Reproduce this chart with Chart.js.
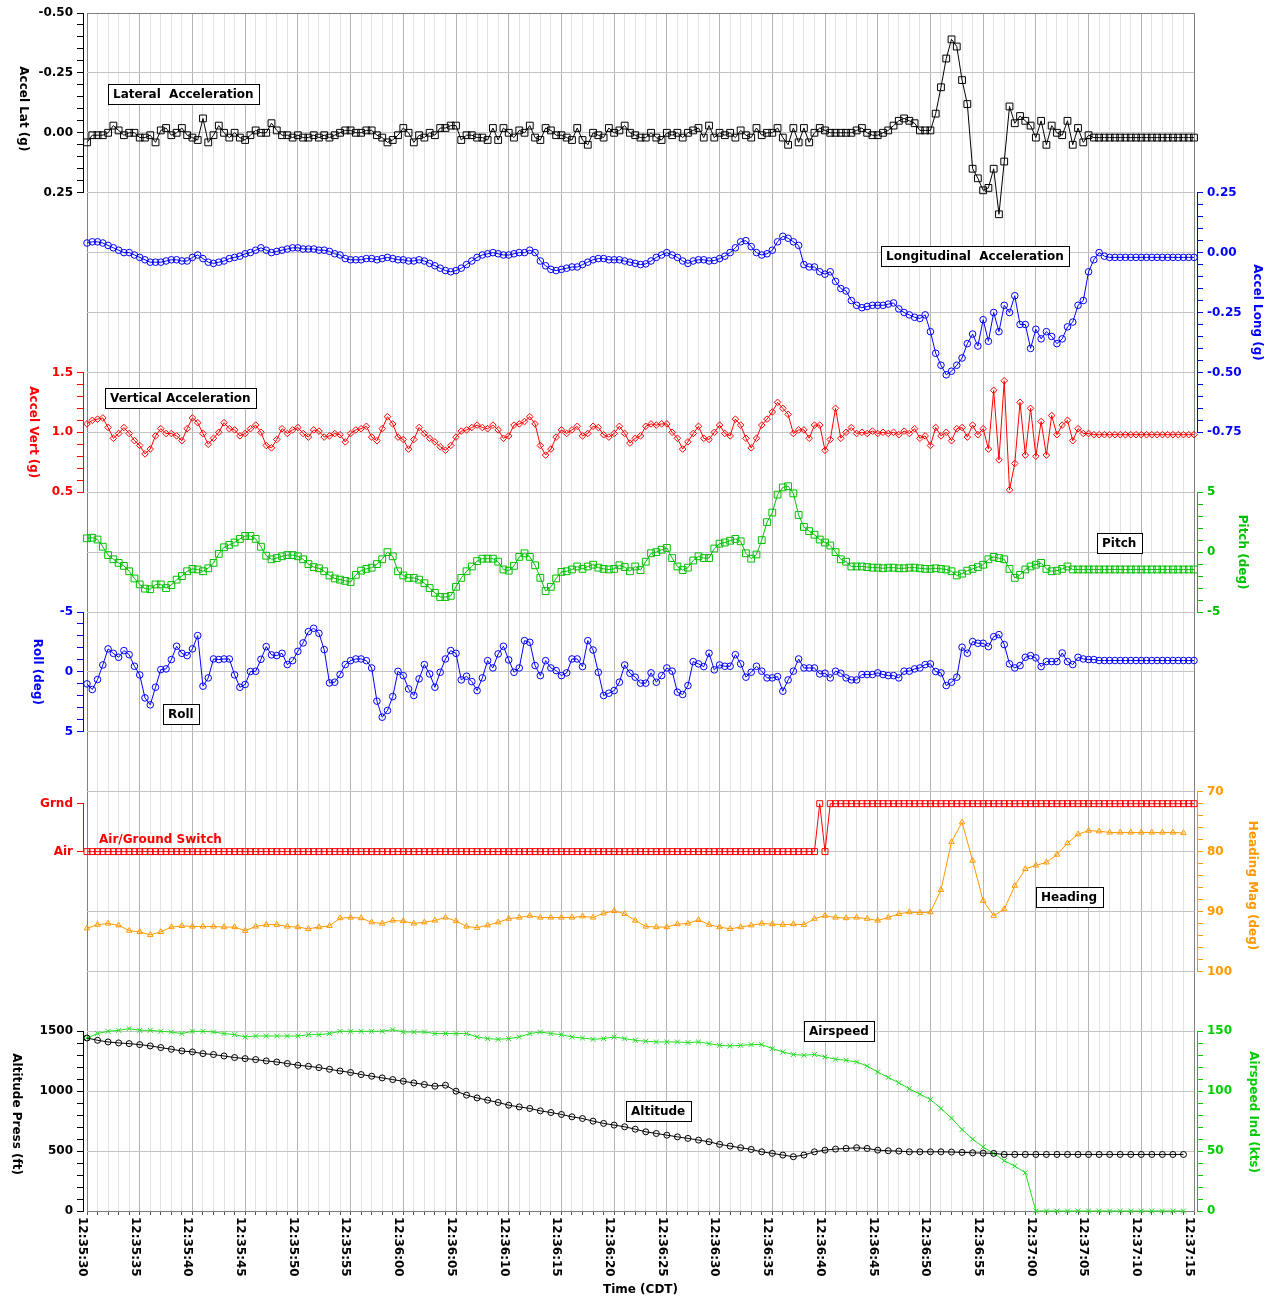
<!DOCTYPE html>
<html>
<head>
<meta charset="utf-8">
<title>Flight data</title>
<script src="https://cdn.jsdelivr.net/npm/chart.js@4/dist/chart.umd.min.js"></script>
<style>
  html, body { margin: 0; background: #fff; }
  canvas { display: block; }
</style>
</head>
<body>
<canvas id="fdr" width="1273" height="1301"></canvas>
<script>
// time base: seconds after 12:35:30. fast parameters 2 samples/s, slow ones 1/s
const timeLabels = ['12:35:30', '12:35:35', '12:35:40', '12:35:45', '12:35:50', '12:35:55',
  '12:36:00', '12:36:05', '12:36:10', '12:36:15', '12:36:20', '12:36:25', '12:36:30',
  '12:36:35', '12:36:40', '12:36:45', '12:36:50', '12:36:55', '12:37:00', '12:37:05',
  '12:37:10', '12:37:15'];

const latTicks = [-0.5, -0.25, 0, 0.25];
const longTicks = [-0.75, -0.5, -0.25, 0, 0.25];
const vertTicks = [0.5, 1.0, 1.5];
const pitchTicks = [-5, 0, 5];
const rollTicks = [-5, 0, 5];
const airGndTicks = ['Air', 'Grnd'];
const headingTicks = [70, 80, 90, 100];
const altTicks = [0, 500, 1000, 1500];
const airspeedTicks = [0, 50, 100, 150];

// g, 2 Hz
const latAccel = [
  0.04, 0.01, 0.01, 0.01, 0.00, -0.03, -0.01, 0.01, 0.00, 0.00,
  0.02, 0.02, 0.01, 0.04, -0.01, -0.02, 0.01, 0.00, -0.02, 0.01,
  0.02, 0.03, -0.06, 0.04, 0.01, -0.03, 0.00, 0.02, 0.00, 0.02,
  0.03, 0.01, -0.01, 0.00, 0.00, -0.04, -0.01, 0.01, 0.01, 0.02,
  0.01, 0.02, 0.02, 0.01, 0.02, 0.01, 0.02, 0.01, 0.00, -0.01,
  -0.01, 0.00, 0.00, -0.01, -0.01, 0.01, 0.02, 0.04, 0.03, 0.01,
  -0.02, 0.00, 0.04, 0.01, 0.02, 0.00, 0.01, -0.02, -0.02, -0.03,
  -0.03, 0.03, 0.01, 0.01, 0.02, 0.02, 0.03, -0.02, 0.03, -0.02,
  0.00, 0.02, -0.01, 0.00, -0.03, 0.02, 0.03, -0.02, -0.01, 0.01,
  0.01, 0.02, 0.03, -0.02, 0.03, 0.05, 0.00, 0.01, 0.02, -0.02,
  0.00, -0.01, -0.03, 0.00, 0.01, 0.02, 0.02, 0.00, 0.02, 0.03,
  0.00, 0.01, 0.00, 0.02, 0.00, -0.01, -0.02, 0.02, -0.03, 0.02,
  0.00, 0.01, 0.00, 0.02, -0.01, 0.01, 0.02, -0.02, 0.01, 0.00,
  0.00, -0.02, 0.02, 0.05, -0.02, 0.04, -0.02, 0.04, 0.00, -0.02,
  -0.01, 0.00, 0.00, 0.00, 0.00, 0.00, -0.01, -0.02, 0.00, 0.01,
  0.01, 0.00, -0.01, -0.03, -0.05, -0.06, -0.05, -0.04, -0.01, -0.01,
  -0.01, -0.08, -0.19, -0.31, -0.39, -0.36, -0.22, -0.12, 0.15, 0.19,
  0.24, 0.23, 0.15, 0.34, 0.12, -0.11, -0.04, -0.07, -0.05, -0.03,
  0.02, -0.05, 0.05, -0.03, 0.00, 0.01, -0.05, 0.05, -0.02, 0.04,
  0.01, 0.02, 0.02, 0.02, 0.02, 0.02, 0.02, 0.02, 0.02, 0.02,
  0.02, 0.02, 0.02, 0.02, 0.02, 0.02, 0.02, 0.02, 0.02, 0.02,
  0.02
];

// g, 2 Hz
const longAccel = [
  0.04, 0.045, 0.045, 0.04, 0.03, 0.02, 0.01, 0, 0, -0.01,
  -0.02, -0.03, -0.04, -0.04, -0.04, -0.035, -0.03, -0.03, -0.035, -0.035,
  -0.02, -0.01, -0.025, -0.04, -0.045, -0.04, -0.035, -0.025, -0.02, -0.015,
  -0.005, 0, 0.01, 0.02, 0.01, 0, 0.005, 0.01, 0.015, 0.02,
  0.02, 0.015, 0.015, 0.015, 0.01, 0.01, 0.005, -0.005, -0.01, -0.025,
  -0.03, -0.03, -0.03, -0.025, -0.025, -0.03, -0.025, -0.02, -0.025, -0.03,
  -0.03, -0.035, -0.035, -0.03, -0.035, -0.045, -0.055, -0.065, -0.075, -0.08,
  -0.075, -0.065, -0.05, -0.035, -0.02, -0.01, -0.005, 0, -0.005, -0.01,
  -0.01, -0.005, 0, 0, 0.01, 0, -0.035, -0.055, -0.07, -0.075,
  -0.07, -0.065, -0.06, -0.06, -0.05, -0.04, -0.03, -0.025, -0.025, -0.03,
  -0.03, -0.03, -0.035, -0.04, -0.045, -0.05, -0.047, -0.035, -0.02, -0.01,
  0, -0.01, -0.02, -0.035, -0.045, -0.035, -0.03, -0.03, -0.035, -0.033,
  -0.025, -0.015, 0, 0.02, 0.045, 0.05, 0.025, 0, -0.01, -0.005,
  0.01, 0.045, 0.068, 0.06, 0.045, 0.03, -0.05, -0.06, -0.06, -0.08,
  -0.09, -0.08, -0.12, -0.15, -0.16, -0.2, -0.22, -0.23, -0.225, -0.22,
  -0.22, -0.22, -0.215, -0.21, -0.235, -0.25, -0.26, -0.27, -0.275, -0.26,
  -0.33, -0.42, -0.47, -0.51, -0.495, -0.47, -0.44, -0.38, -0.34, -0.39,
  -0.28, -0.37, -0.25, -0.33, -0.22, -0.25, -0.18, -0.3, -0.3, -0.4,
  -0.32, -0.36, -0.33, -0.35, -0.38, -0.36, -0.31, -0.29, -0.22, -0.2,
  -0.08, -0.03, 0, -0.015, -0.02, -0.02, -0.02, -0.02, -0.02, -0.02,
  -0.02, -0.02, -0.02, -0.02, -0.02, -0.02, -0.02, -0.02, -0.02, -0.02,
  -0.02
];

// g, 2 Hz
const vertAccel = [
  1.07, 1.10, 1.11, 1.12, 1.04, 0.95, 0.99, 1.04, 0.99, 0.93,
  0.89, 0.82, 0.86, 0.97, 1.03, 0.99, 0.99, 0.97, 0.93, 1.03,
  1.12, 1.08, 0.99, 0.90, 0.95, 1.00, 1.08, 1.03, 1.02, 0.97,
  0.99, 1.03, 1.06, 1.00, 0.89, 0.87, 0.94, 1.03, 0.99, 1.02,
  1.04, 0.99, 0.96, 1.02, 1.01, 0.96, 0.97, 0.99, 0.98, 0.92,
  0.99, 1.02, 1.03, 1.05, 0.96, 0.93, 1.03, 1.13, 1.07, 0.96,
  0.94, 0.86, 0.94, 1.04, 0.99, 0.95, 0.92, 0.88, 0.85, 0.89,
  0.96, 1.01, 1.02, 1.04, 1.06, 1.04, 1.03, 1.06, 1.02, 0.95,
  0.97, 1.06, 1.07, 1.09, 1.13, 1.07, 0.89, 0.81, 0.86, 0.96,
  1.02, 0.99, 1.02, 1.05, 0.97, 0.99, 1.05, 1.04, 0.98, 0.96,
  0.99, 1.05, 0.99, 0.91, 0.95, 0.97, 1.05, 1.07, 1.06, 1.07,
  1.07, 1.00, 0.95, 0.86, 0.92, 0.99, 1.05, 0.95, 0.94, 1.00,
  1.06, 0.99, 0.97, 1.11, 1.06, 0.95, 0.87, 0.95, 1.06, 1.11,
  1.17, 1.25, 1.20, 1.15, 0.99, 1.02, 1.02, 0.95, 1.06, 1.06,
  0.85, 0.94, 1.20, 0.95, 1.00, 1.04, 0.99, 1.00, 0.99, 1.01,
  0.99, 1.00, 0.99, 1.00, 0.98, 1.01, 0.99, 1.03, 0.95, 0.97,
  0.89, 1.04, 0.97, 1.00, 0.93, 1.03, 1.04, 0.96, 1.06, 0.98,
  1.03, 0.86, 1.35, 0.77, 1.43, 0.52, 0.74, 1.25, 0.81, 1.20,
  0.80, 1.09, 0.81, 1.14, 0.98, 1.06, 1.10, 0.93, 1.03, 0.99,
  0.99, 0.98, 0.98, 0.98, 0.98, 0.98, 0.98, 0.98, 0.98, 0.98,
  0.98, 0.98, 0.98, 0.98, 0.98, 0.98, 0.98, 0.98, 0.98, 0.98,
  0.98
];

// deg, 2 Hz
const pitch = [
  1.15, 1.2, 1.05, 0.45, -0.25, -0.6, -0.9, -1.15, -1.6, -2.2,
  -2.7, -3.05, -3.1, -2.7, -2.7, -3.0, -2.75, -2.3, -2.0, -1.6,
  -1.4, -1.45, -1.6, -1.35, -0.9, -0.15, 0.4, 0.6, 0.8, 1.1,
  1.35, 1.35, 1.1, 0.45, -0.3, -0.6, -0.5, -0.35, -0.25, -0.25,
  -0.35, -0.6, -1.0, -1.25, -1.35, -1.6, -1.95, -2.2, -2.3, -2.4,
  -2.5, -1.9, -1.55, -1.4, -1.3, -1.0, -0.6, 0.0, -0.35, -1.6,
  -1.95, -2.15, -2.15, -2.3, -2.6, -3.0, -3.4, -3.75, -3.75, -3.65,
  -2.9, -2.15, -1.6, -1.2, -0.75, -0.55, -0.55, -0.55, -0.8, -1.45,
  -1.55, -1.15, -0.4, -0.1, -0.4, -1.1, -2.15, -3.25, -2.9, -2.2,
  -1.65, -1.6, -1.45, -1.2, -1.4, -1.2, -1.05, -1.3, -1.4, -1.45,
  -1.4, -1.1, -1.25, -1.6, -1.2, -1.5, -0.8, -0.1, 0.0, 0.2,
  0.35, -0.5, -1.2, -1.5, -1.3, -0.7, -0.35, -0.5, -0.5, 0.3,
  0.7, 0.8, 0.95, 1.1, 0.9, -0.1, -0.55, -0.2, 1.0, 2.5,
  3.3, 4.8, 5.4, 5.5, 4.9, 3.1, 2.1, 1.75, 1.45, 1.05,
  0.8, 0.55, 0.0, -0.6, -0.8, -1.2, -1.2, -1.2, -1.25, -1.3,
  -1.3, -1.35, -1.3, -1.3, -1.35, -1.35, -1.3, -1.3, -1.35, -1.4,
  -1.4, -1.35, -1.4, -1.45, -1.6, -1.95, -1.8, -1.55, -1.4, -1.25,
  -1.05, -0.6, -0.4, -0.5, -0.6, -1.4, -2.15, -1.9, -1.45, -1.2,
  -1.05, -0.9, -1.4, -1.6, -1.55, -1.4, -1.2, -1.45, -1.45, -1.45,
  -1.45, -1.45, -1.45, -1.45, -1.45, -1.45, -1.45, -1.45, -1.45, -1.45,
  -1.45, -1.45, -1.45, -1.45, -1.45, -1.45, -1.45, -1.45, -1.45, -1.45,
  -1.45
];

// deg, 2 Hz
const roll = [
  1.0, 1.47, 0.64, -0.58, -1.92, -1.55, -1.22, -1.78, -1.44, -0.47,
  0.25, 2.17, 2.75, 1.28, -0.19, -0.25, -1.03, -2.14, -1.55, -1.36,
  -1.92, -3.03, 1.19, 0.5, -1.08, -1.03, -1.08, -1.08, 0.25, 1.28,
  1.05, -0.03, -0.05, -1.05, -2.11, -1.42, -1.36, -1.55, -0.61, -0.94,
  -1.72, -2.42, -3.36, -3.64, -3.22, -1.86, 0.92, 0.86, 0.22, -0.61,
  -0.94, -1.08, -1.08, -0.94, -0.33, 2.44, 3.78, 3.22, 2.06, -0.05,
  0.31, 1.42, 1.97, 0.58, -0.61, 0.17, 1.28, 0.03, -1.08, -1.78,
  -1.55, 0.67, 0.36, 0.81, 1.56, 0.5, -0.94, -0.33, -1.5, -2.14,
  -1.0, 0.03, -0.33, -2.61, -2.47, -0.53, 0.31, -0.94, -0.33, -0.11,
  0.31, 0.08, -1.08, -1.08, -0.44, -2.61, -1.83, 0.03, 1.97, 1.78,
  1.56, 0.86, -0.58, 0.11, 0.44, 0.94, 0.94, 0.08, 0.86, 0.31,
  -0.33, -0.06, 1.69, 1.89, 1.14, -0.86, -0.67, -0.44, -1.56, -0.17,
  -0.58, -0.47, -0.47, -1.44, -0.67, 0.44, 0.03, -0.47, -0.06, 0.5,
  0.5, 0.39, 1.61, 0.67, -0.06, -1.08, -0.33, -0.33, -0.33, 0.17,
  0.11, 0.5, -0.06, 0.11, 0.5, 0.67, 0.67, 0.22, 0.22, 0.22,
  0.08, 0.22, 0.31, 0.31, 0.5, -0.06, -0.06, -0.25, -0.33, -0.61,
  -0.67, -0.03, 0.08, 1.14, 0.86, 0.44, -2.06, -1.56, -2.53, -2.39,
  -2.39, -2.11, -2.94, -3.11, -2.28, -0.67, -0.33, -0.53, -1.22, -1.36,
  -1.17, -0.44, -0.86, -0.86, -0.86, -1.58, -0.86, -0.61, -1.22, -1.08,
  -1.03, -1.03, -0.95, -0.95, -0.95, -0.95, -0.95, -0.95, -0.95, -0.95,
  -0.95, -0.95, -0.95, -0.95, -0.95, -0.95, -0.95, -0.95, -0.95, -0.95,
  -0.95
];

// 0 = Air, 1 = Grnd, 2 Hz
const airGround = [
  0, 0, 0, 0, 0, 0, 0, 0, 0, 0,
  0, 0, 0, 0, 0, 0, 0, 0, 0, 0,
  0, 0, 0, 0, 0, 0, 0, 0, 0, 0,
  0, 0, 0, 0, 0, 0, 0, 0, 0, 0,
  0, 0, 0, 0, 0, 0, 0, 0, 0, 0,
  0, 0, 0, 0, 0, 0, 0, 0, 0, 0,
  0, 0, 0, 0, 0, 0, 0, 0, 0, 0,
  0, 0, 0, 0, 0, 0, 0, 0, 0, 0,
  0, 0, 0, 0, 0, 0, 0, 0, 0, 0,
  0, 0, 0, 0, 0, 0, 0, 0, 0, 0,
  0, 0, 0, 0, 0, 0, 0, 0, 0, 0,
  0, 0, 0, 0, 0, 0, 0, 0, 0, 0,
  0, 0, 0, 0, 0, 0, 0, 0, 0, 0,
  0, 0, 0, 0, 0, 0, 0, 0, 0, 1,
  0, 1, 1, 1, 1, 1, 1, 1, 1, 1,
  1, 1, 1, 1, 1, 1, 1, 1, 1, 1,
  1, 1, 1, 1, 1, 1, 1, 1, 1, 1,
  1, 1, 1, 1, 1, 1, 1, 1, 1, 1,
  1, 1, 1, 1, 1, 1, 1, 1, 1, 1,
  1, 1, 1, 1, 1, 1, 1, 1, 1, 1,
  1, 1, 1, 1, 1, 1, 1, 1, 1, 1,
  1
];

// deg, 1 Hz
const heading = [
  92.8, 92.2, 92.0, 92.3, 93.2, 93.4, 93.9, 93.4, 92.6, 92.4,
  92.5, 92.5, 92.5, 92.6, 92.6, 93.2, 92.5, 92.2, 92.2, 92.5,
  92.6, 92.9, 92.6, 92.4, 91.1, 91.0, 91.1, 91.8, 92.0, 91.5,
  91.6, 92.0, 91.8, 91.5, 91.0, 91.6, 92.5, 92.7, 92.3, 91.8,
  91.2, 91.0, 90.7, 91.0, 91.0, 91.0, 91.0, 90.8, 91.0, 90.3,
  89.9, 90.4, 91.5, 92.5, 92.6, 92.6, 92.1, 92.0, 91.4, 92.2,
  92.6, 92.9, 92.6, 92.3, 92.0, 92.1, 92.2, 92.1, 92.2, 91.2,
  90.7, 91.0, 91.1, 91.0, 91.2, 91.5, 91.0, 90.4, 90.1, 90.2,
  90.1, 86.4, 78.4, 75.1, 81.5, 88.2, 90.7, 89.6, 85.7, 82.9,
  82.3, 81.8, 80.5, 78.6, 77.1, 76.5, 76.6, 76.8, 76.8, 76.8,
  76.8, 76.8, 76.8, 76.8, 76.9
];

// ft, 1 Hz
const altitude = [
  1444, 1425, 1411, 1403, 1397, 1389, 1378, 1364, 1350, 1336,
  1328, 1314, 1306, 1294, 1281, 1272, 1264, 1253, 1244, 1231,
  1217, 1208, 1197, 1183, 1169, 1156, 1139, 1125, 1111, 1097,
  1083, 1069, 1056, 1042, 1050, 1000, 967, 944, 925, 906,
  883, 869, 856, 836, 822, 806, 786, 772, 750, 731,
  717, 703, 683, 661, 647, 633, 619, 606, 592, 578,
  556, 542, 528, 514, 494, 481, 467, 453, 467, 494,
  508, 517, 522, 528, 522, 508, 503, 500, 494, 494,
  494, 494, 492, 489, 486, 483, 481, 472, 472, 472,
  472, 472, 472, 472, 472, 472, 472, 472, 472, 472,
  472, 472, 472, 472, 472
];

// kts, 1 Hz
const airspeed = [
  144.4, 148.1, 150, 150.8, 152.2, 150.8, 150.8, 150, 149.4, 148.1,
  150, 150, 149.4, 148.1, 147.2, 145.3, 146.1, 146.1, 146.1, 146.1,
  146.1, 147.2, 147.2, 148.1, 150, 150, 150, 150, 150, 151.4,
  149.4, 149.4, 149.4, 148.1, 148.1, 148.1, 148.1, 145.3, 143.9, 143.3,
  143.9, 145.3, 148.1, 149.4, 148.1, 147.2, 145.3, 144.4, 143.3, 143.9,
  145.3, 143.9, 142.5, 141.7, 141.1, 141.1, 141.1, 140.6, 141.1, 139.7,
  138.3, 137.8, 138.3, 138.9, 138.9, 135.6, 132.8, 130.6, 130, 130.6,
  128.6, 126.7, 125.8, 124.4, 121, 116, 111.5, 107, 102, 97.5,
  93, 85.5, 77.5, 68, 60, 53.5, 48, 42, 37.5, 32,
  0, 0, 0, 0, 0, 0, 0, 0, 0, 0,
  0, 0, 0, 0, 0
];

const FONT = 'DejaVu Sans';
const LEFT_W = 87, RIGHT_W = 79;

function series(values, rate) {
  return values.map((v, i) => ({ x: i / rate, y: v }));
}

function buildTicks(min, max, step, majors) {
  const n = Math.round((max - min) / step);
  const out = [];
  for (let k = 0; k <= n; k++) {
    let v = min + k * step;
    const m = majors.find(mv => Math.abs(mv - v) < step / 10);
    if (m !== undefined) v = m;
    out.push({ value: v, isMajor: m !== undefined });
  }
  return out;
}

function sideAxis(o) {
  return {
    type: 'linear',
    position: o.pos,
    stack: 'side',
    stackWeight: o.units,
    weight: o.order,
    reverse: !!o.reverse,
    min: o.min,
    max: o.max,
    border: { display: true, color: o.color, width: 1 },
    grid: { drawOnChartArea: false, tickColor: o.color, tickLength: 6 },
    ticks: {
      color: o.color, padding: 4, autoSkip: false,
      font: { family: FONT, size: 12, weight: 'bold' },
      callback: (v, i, ticks) => ticks[i].isMajor ? o.fmt(v) : ''
    },
    afterBuildTicks: s => { s.ticks = buildTicks(o.min, o.max, o.minor, o.majors); },
    afterFit: s => { s.width = o.pos === 'left' ? LEFT_W : RIGHT_W; }
  };
}

function gapAxis(pos, units, order) {
  return {
    type: 'linear', position: pos, stack: 'side', stackWeight: units, weight: order,
    border: { display: false }, grid: { display: false }, ticks: { display: false },
    afterFit: s => { s.width = pos === 'left' ? LEFT_W : RIGHT_W; }
  };
}

const C = {
  lat: '#000000', long: '#0000ff', vert: '#ff0000', pitch: '#00c000', roll: '#0000ff',
  airgnd: '#ff0000', heading: '#ff9900', alt: '#000000', airspeed: '#22dd22'
};

const axisTitles = [
  { axis: 'lat', text: 'Accel Lat (g)', dx: -60, dy: 6 },
  { axis: 'vert', text: 'Accel Vert (g)', dx: -50, dy: 0 },
  { axis: 'roll', text: 'Roll (deg)', dx: -46, dy: 0 },
  { axis: 'alt', text: 'Altitude Press (ft)', dx: -67, dy: -7 },
  { axis: 'long', text: 'Accel Long (g)', dx: 60, dy: 0 },
  { axis: 'pitch', text: 'Pitch (deg)', dx: 45, dy: 0 },
  { axis: 'heading', text: 'Heading Mag (deg)', dx: 55, dy: 4 },
  { axis: 'airspeed', text: 'Airspeed Ind (kts)', dx: 56, dy: -9 }
];

const labelBoxes = [
  { text: 'Lateral  Acceleration', axis: 'lat', t: 2.0, v: -0.1625, color: '#000', framed: true },
  { text: 'Longitudinal  Acceleration', axis: 'long', t: 75.3, v: -0.0125, color: '#000', framed: true },
  { text: 'Vertical Acceleration', axis: 'vert', t: 1.7, v: 1.29, color: '#000', framed: true },
  { text: 'Pitch', axis: 'pitch', t: 95.8, v: 0.8, color: '#000', framed: true },
  { text: 'Roll', axis: 'roll', t: 7.2, v: 3.5, color: '#000', framed: true },
  { text: 'Air/Ground Switch', axis: 'airgnd', t: 1.15, v: 0.27, color: '#ff0000', framed: false },
  { text: 'Heading', axis: 'heading', t: 90.0, v: 87.6, color: '#000', framed: true },
  { text: 'Airspeed', axis: 'airspeed', t: 68.0, v: 150, color: '#000', framed: true },
  { text: 'Altitude', axis: 'alt', t: 51.1, v: 833, color: '#000', framed: true }
];

const overlay = {
  id: 'overlay',
  afterLayout(chart) {
    // axis spines sit a few pixels off the plot frame
    for (const s of Object.values(chart.scales)) {
      if (s.options.stack !== 'side') continue;
      const d = s.position === 'left' ? -4 : 3;
      s.left += d;
      s.right += d;
    }
  },
  afterDatasetsDraw(chart) {
    const { ctx, scales } = chart;
    ctx.save();
    ctx.font = 'bold 12px "' + FONT + '"';
    ctx.textBaseline = 'middle';
    for (const b of labelBoxes) {
      const x = Math.round(scales.x.getPixelForValue(b.t));
      const y = Math.round(scales[b.axis].getPixelForValue(b.v));
      if (b.framed) {
        const w = Math.ceil(ctx.measureText(b.text).width) + 10;
        ctx.fillStyle = '#fff';
        ctx.fillRect(x, y - 10, w, 20);
        ctx.strokeStyle = '#000';
        ctx.lineWidth = 1;
        ctx.strokeRect(x + 0.5, y - 9.5, w, 20);
      }
      ctx.fillStyle = b.color;
      ctx.fillText(b.text, x + (b.framed ? 5 : 0), y + 1);
    }
    ctx.restore();
  },
  afterDraw(chart) {
    const { ctx, scales } = chart;
    ctx.save();
    ctx.font = 'bold 12px "' + FONT + '"';
    ctx.textAlign = 'center';
    ctx.textBaseline = 'middle';
    for (const a of axisTitles) {
      const s = scales[a.axis];
      const spine = s.position === 'left' ? s.right : s.left;
      ctx.save();
      ctx.translate(spine + a.dx, (s.top + s.bottom) / 2 + a.dy);
      ctx.rotate(Math.PI / 2);
      ctx.fillStyle = s.options.ticks.color;
      ctx.fillText(a.text, 0, 0);
      ctx.restore();
    }
    ctx.restore();
  }
};

function ds(label, values, rate, axis, style, radius) {
  return {
    label, data: series(values, rate), yAxisID: axis, clip: false,
    borderColor: C[axis], borderWidth: 1, tension: 0, fill: false,
    pointStyle: style, pointRadius: radius, pointBorderWidth: 1,
    pointBorderColor: C[axis], pointBackgroundColor: 'rgba(0,0,0,0)'
  };
}

const seconds = [];
for (let s = 0; s <= 105; s++) seconds.push(s);

Chart.defaults.font.family = FONT;

new Chart(document.getElementById('fdr'), {
  type: 'line',
  data: {
    datasets: [
      ds('Lateral Acceleration', latAccel, 2, 'lat', 'rect', 4.8),
      ds('Longitudinal Acceleration', longAccel, 2, 'long', 'circle', 3.3),
      ds('Vertical Acceleration', vertAccel, 2, 'vert', 'rectRot', 3.3),
      ds('Pitch', pitch, 2, 'pitch', 'rect', 4.8),
      ds('Roll', roll, 2, 'roll', 'circle', 3.3),
      ds('Air/Ground Switch', airGround, 2, 'airgnd', 'rect', 4.2),
      ds('Heading', heading, 1, 'heading', 'triangle', 3.2),
      ds('Altitude', altitude, 1, 'alt', 'circle', 3),
      ds('Airspeed', airspeed, 1, 'airspeed', 'crossRot', 3.5)
    ]
  },
  options: {
    responsive: false,
    animation: false,
    devicePixelRatio: 1,
    layout: { padding: { top: 13, left: 0, right: 0, bottom: 0 } },
    plugins: { legend: { display: false }, tooltip: { enabled: false } },
    elements: { point: { hitRadius: 0, hoverRadius: 0 } },
    scales: {
      x: {
        type: 'linear', position: 'bottom', min: 0, max: 105,
        afterBuildTicks: s => { s.ticks = seconds.map(v => ({ value: v })); },
        beforeUpdate: s => { s._getXAxisLabelAlignment = () => 'left'; },
        afterFit: s => { s.height = 90; },
        ticks: {
          autoSkip: false, minRotation: -90, maxRotation: -90, padding: 2, labelOffset: -5,
          color: '#000', font: { family: FONT, size: 12, weight: 'bold' },
          callback: v => v % 5 === 0 ? timeLabels[v / 5] : ''
        },
        grid: {
          color: c => {
            const v = c.tick && c.tick.value;
            if (v === 0 || v === 105) return '#808080';
            return v % 5 === 0 ? '#b4b4b4' : '#e2e2e2';
          },
          tickColor: '#555', tickLength: 4
        },
        border: { color: '#808080' },
        title: {
          display: true, text: 'Time (CDT)', color: '#000',
          font: { family: FONT, size: 12, weight: 'bold' }, padding: { top: 0, bottom: 4 }
        }
      },
      lat: sideAxis({ pos: 'left', units: 3, order: 9, reverse: true, min: -0.5, max: 0.25, minor: 0.05,
        majors: latTicks, color: C.lat, fmt: v => v.toFixed(2) }),
      gL1: gapAxis('left', 3, 8),
      vert: sideAxis({ pos: 'left', units: 2, order: 7, min: 0.5, max: 1.5, minor: 0.1,
        majors: vertTicks, color: C.vert, fmt: v => v.toFixed(1) }),
      gL2: gapAxis('left', 2, 6),
      roll: sideAxis({ pos: 'left', units: 2, order: 5, reverse: true, min: -5, max: 5, minor: 1,
        majors: rollTicks, color: C.roll, fmt: v => String(v) }),
      gL3: gapAxis('left', 1.2, 4),
      airgnd: sideAxis({ pos: 'left', units: 0.8, order: 3, min: 0, max: 1, minor: 1,
        majors: [0, 1], color: C.airgnd, fmt: v => airGndTicks[v] }),
      gL4: gapAxis('left', 3, 2),
      alt: sideAxis({ pos: 'left', units: 3, order: 1, min: 0, max: 1500, minor: 100,
        majors: altTicks, color: C.alt, fmt: v => String(v) }),
      hgrid: {
        type: 'linear', position: 'left', weight: -10, min: 0, max: 20, reverse: true,
        border: { display: false },
        ticks: { display: false, stepSize: 1 },
        grid: {
          drawTicks: false,
          color: c => (c.tick && (c.tick.value === 0 || c.tick.value === 20)) ? '#808080' : '#c4c4c4'
        }
      },
      gR1: gapAxis('right', 3, 1),
      long: sideAxis({ pos: 'right', units: 4, order: 2, min: -0.75, max: 0.25, minor: 0.05,
        majors: longTicks, color: C.long, fmt: v => v.toFixed(2) }),
      gR2: gapAxis('right', 1, 3),
      pitch: sideAxis({ pos: 'right', units: 2, order: 4, min: -5, max: 5, minor: 1,
        majors: pitchTicks, color: C.pitch, fmt: v => String(v) }),
      gR3: gapAxis('right', 3, 5),
      heading: sideAxis({ pos: 'right', units: 3, order: 6, reverse: true, min: 70, max: 100, minor: 2,
        majors: headingTicks, color: C.heading, fmt: v => String(v) }),
      gR4: gapAxis('right', 1, 7),
      airspeed: sideAxis({ pos: 'right', units: 3, order: 8, min: 0, max: 150, minor: 10,
        majors: airspeedTicks, color: '#00cc00', fmt: v => String(v) })
    }
  },
  plugins: [overlay]
});
</script>
</body>
</html>
